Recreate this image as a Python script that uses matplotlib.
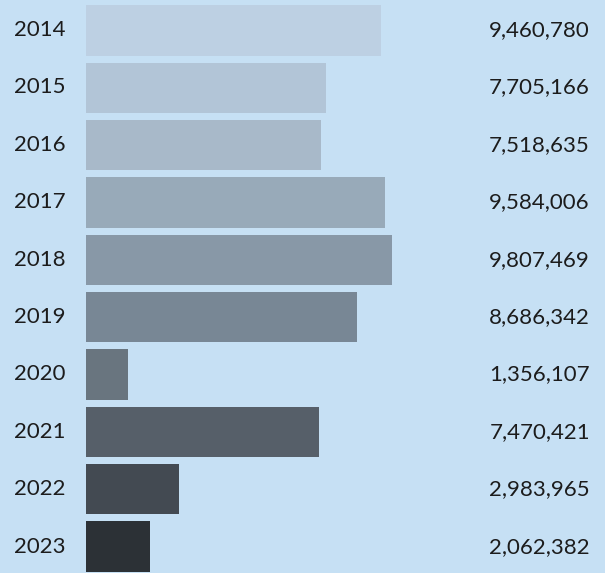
import matplotlib
matplotlib.use("Agg")
import matplotlib.pyplot as plt

years = ["2014", "2015", "2016", "2017", "2018", "2019", "2020", "2021", "2022", "2023"]
values = [9460780, 7705166, 7518635, 9584006, 9807469, 8686342, 1356107, 7470421, 2983965, 2062382]
bar_colors = ["#bdd0e3", "#b2c5d7", "#a8b9c9", "#98aab9", "#8898a7", "#788795",
              "#69757f", "#565f69", "#434a52", "#2c3136"]

bg = "#c6e0f4"
fig = plt.figure(figsize=(6.05, 5.73), dpi=100, facecolor=bg)
# bar area starts at the year column's right edge; shifted down slightly
ax = fig.add_axes([86 / 605, -2 / 573, (605 - 86) / 605, 1.0])
ax.set_facecolor(bg)

pos = list(range(len(years)))
ax.barh(pos, values, height=0.88, color=bar_colors, edgecolor="none")
ax.set_ylim(len(years) - 0.5, -0.5)
ax.set_xlim(0, 16.63e6)
ax.axis("off")

font = dict(family="Lato", fontsize=16, color="#1c1c1c", va="center")
for i, (y, v) in enumerate(zip(years, values)):
    fig.text(14 / 605, 1 - (30 + i * 57.4) / 573, y, ha="left", **font)
    fig.text(590 / 605, 1 - (30 + i * 57.4) / 573, f"{v:,}", ha="right", **font)

fig.savefig("out.png", dpi=100, facecolor=bg)
